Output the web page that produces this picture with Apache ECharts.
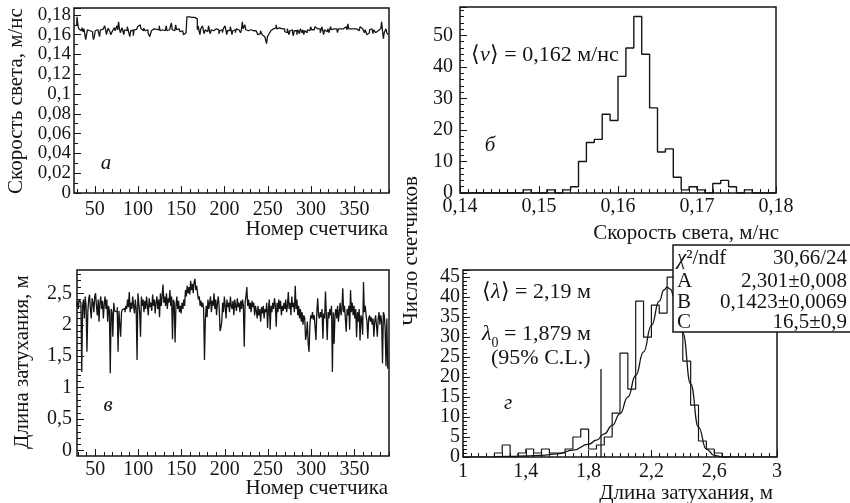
<!DOCTYPE html>
<html><head><meta charset="utf-8">
<script src="https://cdn.jsdelivr.net/npm/echarts@6/dist/echarts.min.js"></script>
<style>html,body{margin:0;padding:0;background:#fff}#c{width:850px;height:503px}</style>
</head><body><div id="c"></div>
<script>
// ================= DATA =================
const firstCounter = 29;
// panel а: light speed per counter, m/ns
const speedValues = [
0.1690,0.1780,0.1700,0.1660,0.1675,0.1640,0.1655,0.1670,0.1630,0.1660,
0.1645,0.1550,0.1600,0.1650,0.1665,0.1640,0.1660,0.1655,0.1630,0.1600,
0.1550,0.1580,0.1640,0.1660,0.1650,0.1665,0.1620,0.1580,0.1650,0.1670,
0.1655,0.1640,0.1660,0.1690,0.1650,0.1600,0.1640,0.1665,0.1650,0.1630,
0.1600,0.1580,0.1640,0.1655,0.1670,0.1640,0.1660,0.1690,0.1650,0.1730,
0.1660,0.1620,0.1645,0.1670,0.1640,0.1600,0.1650,0.1665,0.1640,0.1680,
0.1650,0.1630,0.1580,0.1640,0.1660,0.1645,0.1590,0.1650,0.1670,0.1655,
0.1640,0.1680,0.1660,0.1700,0.1720,0.1660,0.1650,0.1640,0.1665,0.1650,
0.1640,0.1660,0.1650,0.1620,0.1600,0.1580,0.1600,0.1640,0.1650,0.1660,
0.1640,0.1680,0.1655,0.1640,0.1660,0.1650,0.1690,0.1640,0.1660,0.1650,
0.1640,0.1670,0.1640,0.1650,0.1690,0.1640,0.1660,0.1650,0.1640,0.1690,
0.1720,0.1650,0.1660,0.1640,0.1660,0.1700,0.1650,0.1640,0.1660,0.1650,
0.1630,0.1620,0.1640,0.1620,0.1600,0.1610,0.1620,0.1640,0.1780,0.1780,
0.1780,0.1780,0.1780,0.1775,0.1775,0.1775,0.1775,0.1770,0.1770,0.1760,
0.1650,0.1690,0.1640,0.1600,0.1660,0.1650,0.1690,0.1640,0.1610,0.1650,
0.1660,0.1630,0.1650,0.1690,0.1640,0.1610,0.1650,0.1660,0.1640,0.1650,
0.1620,0.1660,0.1640,0.1680,0.1650,0.1610,0.1640,0.1660,0.1650,0.1620,
0.1660,0.1640,0.1690,0.1650,0.1600,0.1640,0.1660,0.1645,0.1680,0.1650,
0.1600,0.1640,0.1660,0.1650,0.1620,0.1660,0.1680,0.1650,0.1640,0.1660,
0.1620,0.1650,0.1730,0.1660,0.1640,0.1700,0.1650,0.1660,0.1640,0.1650,
0.1620,0.1650,0.1640,0.1660,0.1640,0.1650,0.1630,0.1640,0.1620,0.1630,
0.1600,0.1620,0.1610,0.1640,0.1620,0.1600,0.1610,0.1580,0.1590,0.1570,
0.1510,0.1580,0.1600,0.1610,0.1620,0.1640,0.1650,0.1660,0.1650,0.1660,
0.1670,0.1700,0.1660,0.1650,0.1670,0.1660,0.1650,0.1660,0.1640,0.1650,
0.1660,0.1630,0.1650,0.1620,0.1660,0.1650,0.1600,0.1640,0.1660,0.1650,
0.1620,0.1590,0.1640,0.1660,0.1640,0.1600,0.1650,0.1640,0.1610,0.1660,
0.1640,0.1620,0.1650,0.1600,0.1640,0.1650,0.1620,0.1650,0.1660,0.1640,
0.1660,0.1680,0.1650,0.1660,0.1650,0.1640,0.1680,0.1700,0.1660,0.1650,
0.1640,0.1660,0.1620,0.1650,0.1680,0.1640,0.1600,0.1650,0.1660,0.1630,
0.1650,0.1660,0.1620,0.1650,0.1680,0.1650,0.1640,0.1660,0.1650,0.1640,
0.1660,0.1650,0.1620,0.1660,0.1650,0.1660,0.1640,0.1670,0.1660,0.1650,
0.1660,0.1680,0.1660,0.1650,0.1710,0.1660,0.1650,0.1660,0.1640,0.1650,
0.1660,0.1650,0.1640,0.1660,0.1650,0.1660,0.1640,0.1650,0.1680,0.1690,
0.1660,0.1650,0.1640,0.1620,0.1650,0.1640,0.1600,0.1580,0.1620,0.1650,
0.1640,0.1660,0.1650,0.1610,0.1650,0.1640,0.1620,0.1600,0.1640,0.1650,
0.1640,0.1660,0.1680,0.1730,0.1640,0.1560,0.1620,0.1640,0.1660,0.1620,
0.1600];
// panel в: attenuation length per counter, m
const attenValues = [
2.30,2.38,2.25,2.40,2.42,2.35,1.25,2.30,2.40,2.10,
2.45,2.30,1.57,2.20,2.40,2.48,2.25,2.10,2.42,2.35,
2.20,2.45,2.50,2.30,2.15,2.40,2.05,2.35,2.45,2.25,
2.38,2.10,2.32,2.45,2.25,2.40,2.05,2.30,2.22,1.23,
2.25,2.20,1.81,2.35,2.22,2.25,2.20,2.28,1.57,2.22,
2.25,1.81,2.20,2.24,2.22,2.26,2.20,2.30,2.25,2.40,
2.28,2.52,2.20,2.35,2.25,2.45,2.30,2.18,2.40,2.25,
1.44,2.50,2.35,2.20,1.81,2.45,2.30,2.40,2.20,2.38,
2.25,2.45,2.30,2.15,2.42,2.28,2.35,2.22,2.48,2.30,
2.40,2.18,2.35,2.45,2.25,2.40,2.12,2.50,2.30,2.45,
2.64,2.35,2.45,2.30,2.50,2.25,2.42,2.35,2.55,2.30,
2.45,1.77,2.40,2.35,1.72,2.30,2.45,2.25,2.38,2.20,
2.30,2.18,2.35,2.25,2.40,2.30,2.55,2.45,2.62,2.50,
2.60,2.48,2.70,2.55,2.65,2.50,2.68,2.73,2.55,2.62,
2.50,2.40,2.45,2.30,2.38,2.28,2.35,2.25,1.44,2.07,
2.30,2.12,2.40,2.25,2.35,2.45,2.20,2.38,2.30,2.50,
2.25,2.40,2.15,2.35,2.45,2.28,1.90,1.95,2.05,2.35,
2.20,2.45,2.30,2.10,2.40,2.28,2.35,2.20,2.45,2.30,
2.25,2.38,2.15,2.40,2.30,2.22,2.42,2.28,2.35,2.20,
2.38,2.25,2.40,2.30,1.65,2.35,2.45,2.60,2.30,2.40,
2.25,2.35,2.20,2.38,2.28,2.35,2.15,2.30,2.22,2.10,
2.30,2.15,2.25,2.05,2.28,2.18,2.30,2.10,2.25,2.20,
2.35,1.95,2.25,2.40,1.92,2.30,2.20,2.35,2.25,2.42,
2.30,1.97,2.35,2.20,2.40,2.25,2.38,2.15,2.30,2.22,
2.35,2.25,2.40,2.20,2.30,2.52,2.25,2.35,2.15,2.45,
2.28,2.35,2.20,2.62,2.25,2.40,2.15,2.30,2.10,2.25,
2.05,2.20,2.00,2.15,2.10,1.76,1.85,2.05,1.70,1.57,
2.00,2.15,2.10,2.20,2.08,2.15,2.12,1.76,2.20,2.42,
2.15,2.10,2.20,2.12,2.25,1.78,2.18,2.10,2.53,2.15,
1.76,2.20,2.10,2.25,2.15,2.30,1.25,2.20,1.70,2.15,
2.25,2.10,2.30,2.05,2.20,2.35,2.15,2.25,2.58,2.20,
2.30,2.10,1.89,2.25,2.15,2.30,1.92,2.55,2.20,2.35,
2.15,2.30,2.10,2.25,1.80,2.20,2.05,2.25,1.75,2.15,
2.10,1.84,2.68,2.20,2.30,2.15,2.05,1.78,2.10,2.15,
2.05,2.12,2.00,2.10,1.81,2.05,2.15,2.00,1.81,2.10,
2.20,2.00,2.15,2.05,1.39,2.20,2.15,1.95,1.34,2.10,
1.30];
// panel б: histogram of light speed
const speedBinStart = 0.140, speedBinWidth = 0.001;
const speedCounts = [0,0,0,0,0,0,0,0,1,0, 0,1,0,1,2,10,16,17,25,23, 37,46,56,44,27,13,14,5,1,2, 1,0,3,4,2,0,1,0,0,0];
// panel г: histogram of attenuation length
const attenBinStart = 1.0, attenBinWidth = 0.05;
const attenCounts = [0,0,0,0,1,3,0,1,2,1, 2,1,1,2,5,7,2,3,5,11, 26,17,39,30,38,36,45,41,24,13, 4,2,1,0,0,0,0,0,0,0];
// fit curve
const fitX = [1.20,1.30,1.40,1.50,1.60,1.70,1.80,1.85,1.90,1.95,2.00,2.05,2.10,2.15,2.20,2.25,2.28,2.30,2.32,2.35,2.40,2.45,2.50,2.55,2.60,2.65,2.70];
const fitY = [0.1,0.15,0.25,0.4,0.8,1.7,3.2,4.2,5.8,7.9,10.8,15.0,20.4,26.3,32.9,39.0,41.8,42.5,42.0,39.5,31.0,18.3,7.5,2.0,0.4,0.05,0];
const lambda0X = [1.879,1.879];
const lambda0Y = [0,22];
// tick labels
const counterTicks = [50,100,150,200,250,300,350];
const attenAxisTicks = [0,0.5,1,1.5,2,2.5];
const statsRows = [['χ²/ndf','30,66/24'],['A','2,301±0,008'],['B','0,1423±0,0069'],['C','16,5±0,9']];

// ================= CHART =================
const FONT = 'Liberation Serif';
const ink = '#151515';
const TICK_FS = 20, TITLE_FS = 21, NOTE_FS = 22, STAT_FS = 21;
const fmt = v => String(+(+v).toFixed(4)).replace('.', ',');
const lab = (margin, fs) => ({fontFamily:FONT, fontSize:fs||TICK_FS, lineHeight:16, color:ink, margin:margin, formatter:fmt, showMinLabel:true, hideOverlap:false});
const tick = (len) => ({show:true, inside:true, length:len, lineStyle:{color:ink, width:1}});
const noLine = {show:false, onZero:false};
const minor = (n) => ({show:true, splitNumber:n, length:4, lineStyle:{color:ink, width:1}});

function histData(start, w, counts){
  const d = counts.map((c,i)=>[+(start+i*w).toFixed(4), c]);
  d.push([+(start+counts.length*w).toFixed(4), counts[counts.length-1]]);
  return d;
}
const minorCounters = []; for (let v=30; v<=390; v+=10) if (v%50) minorCounters.push(v);
const minorAtten = []; for (let k=1; k<=28; k++) if (k%5) minorAtten.push(+(k*0.1).toFixed(1));

const counters = speedValues.map((_,i)=>firstCounter+i);
const gridBase = {show:true, borderColor:ink, borderWidth:1.5, backgroundColor:'transparent'};

const option = {
  animation:false,
  backgroundColor:'#fff',
  grid:[
    Object.assign({left:74, top:8, width:315, height:185}, gridBase),
    Object.assign({left:460, top:7, width:316, height:186}, gridBase),
    Object.assign({left:77, top:270, width:312, height:186}, gridBase),
    Object.assign({left:463, top:270, width:314, height:187}, gridBase)
  ],
  xAxis:[
    {type:'value', gridIndex:0, position:'bottom', min:26, max:390, axisLine:noLine, splitLine:{show:false},
     axisLabel:Object.assign(lab(9),{customValues:counterTicks}), axisTick:Object.assign(tick(7),{customValues:counterTicks})},
    {type:'value', gridIndex:0, position:'bottom', min:26, max:390, axisLine:noLine, splitLine:{show:false},
     axisLabel:{show:false}, axisTick:Object.assign(tick(4),{customValues:minorCounters})},
    {type:'value', gridIndex:1, position:'bottom', min:0.14, max:0.18, interval:0.01, axisLine:noLine, splitLine:{show:false},
     axisLabel:lab(6), axisTick:tick(7), minorTick:minor(10)},
    {type:'value', gridIndex:2, position:'bottom', min:29, max:390, axisLine:noLine, splitLine:{show:false},
     axisLabel:Object.assign(lab(6),{customValues:counterTicks}), axisTick:Object.assign(tick(7),{customValues:counterTicks})},
    {type:'value', gridIndex:2, position:'bottom', min:29, max:390, axisLine:noLine, splitLine:{show:false},
     axisLabel:{show:false}, axisTick:Object.assign(tick(4),{customValues:minorCounters})},
    {type:'value', gridIndex:3, position:'bottom', min:1, max:3, interval:0.4, axisLine:noLine, splitLine:{show:false},
     axisLabel:lab(7), axisTick:tick(7), minorTick:minor(8)}
  ],
  yAxis:[
    {type:'value', gridIndex:0, position:'left', min:0, max:0.187, interval:0.02, axisLine:noLine, splitLine:{show:false},
     axisLabel:Object.assign(lab(3, 19),{showMaxLabel:false}), axisTick:tick(7), minorTick:minor(2)},
    {type:'value', gridIndex:1, position:'left', min:0, max:59, interval:10, axisLine:noLine, splitLine:{show:false},
     axisLabel:Object.assign(lab(7),{showMaxLabel:false}), axisTick:tick(7), minorTick:minor(5)},
    {type:'value', gridIndex:2, position:'left', min:-0.085, max:2.87, axisLine:noLine, splitLine:{show:false},
     axisLabel:Object.assign(lab(5),{customValues:attenAxisTicks}), axisTick:Object.assign(tick(7),{customValues:attenAxisTicks})},
    {type:'value', gridIndex:2, position:'left', min:-0.085, max:2.87, axisLine:noLine, splitLine:{show:false},
     axisLabel:{show:false}, axisTick:Object.assign(tick(4),{customValues:minorAtten})},
    {type:'value', gridIndex:3, position:'left', min:0, max:46.8, interval:5, axisLine:noLine, splitLine:{show:false},
     axisLabel:Object.assign(lab(3),{showMaxLabel:false}), axisTick:tick(7), minorTick:minor(5)}
  ],
  series:[
    {type:'line', xAxisIndex:0, yAxisIndex:0, step:'middle', symbol:'none',
     data:counters.map((c,i)=>[c, speedValues[i]]), lineStyle:{color:ink, width:1.3}},
    {type:'line', xAxisIndex:3, yAxisIndex:2, step:'middle', symbol:'none',
     data:counters.map((c,i)=>[c, attenValues[i]]), lineStyle:{color:ink, width:1.3}},
    {type:'line', xAxisIndex:2, yAxisIndex:1, step:'end', symbol:'none',
     data:histData(speedBinStart, speedBinWidth, speedCounts), lineStyle:{color:ink, width:1.4}},
    {type:'line', xAxisIndex:5, yAxisIndex:4, step:'end', symbol:'none',
     data:histData(attenBinStart, attenBinWidth, attenCounts), lineStyle:{color:ink, width:1.2}},
    {type:'line', xAxisIndex:5, yAxisIndex:4, smooth:true, smoothMonotone:'x', symbol:'none',
     data:fitX.map((x,i)=>[x, fitY[i]]), lineStyle:{color:ink, width:1.3}},
    {type:'line', xAxisIndex:5, yAxisIndex:4, symbol:'none',
     data:lambda0X.map((x,i)=>[x, lambda0Y[i]]), lineStyle:{color:ink, width:1.3}}
  ],
  graphic:[]
};

const T = (x,y,text,extra,fs) => Object.assign({type:'text', x:x, y:y, z:50,
  style:Object.assign({text:text, fontFamily:FONT, fontSize:fs||TITLE_FS, fill:ink, align:'left', verticalAlign:'middle'}, extra||{})});
const R = (fs) => ({n:{fontFamily:FONT,fontSize:fs,fill:ink}, i:{fontFamily:FONT,fontSize:fs,fontStyle:'italic',fill:ink}});
const g = option.graphic;
// axis titles
g.push(T(388,229,'Номер счетчика',{align:'right'}));
g.push(T(779,233,'Скорость света, м/нс',{align:'right'}));
g.push(T(388,488,'Номер счетчика',{align:'right'}));
g.push(T(773,493,'Длина затухания, м',{align:'right'}));
g.push(Object.assign(T(16,101,'Скорость света, м/нс',{align:'center'}),{rotation:Math.PI/2}));
g.push(Object.assign(T(22,362,'Длина затухания, м',{align:'center'}),{rotation:Math.PI/2}));
g.push(Object.assign(T(411,251,'Число счетчиков',{align:'center'}),{rotation:Math.PI/2}));
// panel letters
g.push(T(106,163,'а',{align:'center', fontStyle:'italic'}));
g.push(T(490,145,'б',{align:'center', fontStyle:'italic'}));
g.push(T(108,405,'в',{align:'center', fontStyle:'italic'}));
g.push(T(508,403,'г',{align:'center', fontStyle:'italic'}));
// annotations
g.push(T(471,55,'{n|⟨}{i|v}{n|⟩ = 0,162 м/нс}',{rich:R(NOTE_FS)},NOTE_FS));
g.push(T(482,292,'{n|⟨}{i|λ}{n|⟩ = 2,19 м}',{rich:R(NOTE_FS)},NOTE_FS));
g.push(T(482,337,'{i|λ}{s|0}{n| = 1,879 м}',{rich:{
  n:{fontFamily:FONT,fontSize:NOTE_FS,fill:ink,lineHeight:24,verticalAlign:'top'},
  i:{fontFamily:FONT,fontSize:NOTE_FS,fontStyle:'italic',fill:ink,lineHeight:24,verticalAlign:'top'},
  s:{fontFamily:FONT,fontSize:14,fill:ink,lineHeight:27,verticalAlign:'bottom'}}},NOTE_FS));
g.push(T(491,358,'(95% C.L.)',{},NOTE_FS));
// stats box
g.push({type:'rect', z:60, shape:{x:673,y:245,width:190,height:87}, style:{fill:'#fff', stroke:ink, lineWidth:1.5}});
const rowY = [258,281,302,322];
statsRows.forEach((r,i)=>{
  const left = i===0 ? '{i|χ}{n|²/ndf}' : r[0];
  const t = T(677,rowY[i],left,{rich:R(STAT_FS)},STAT_FS);
  t.z = 61; g.push(t);
  const v = T(847,rowY[i],r[1],{align:'right'},STAT_FS); v.z = 61; g.push(v);
});

const chart = echarts.init(document.getElementById('c'), null, {renderer:'canvas'});
chart.setOption(option);
</script></body></html>
